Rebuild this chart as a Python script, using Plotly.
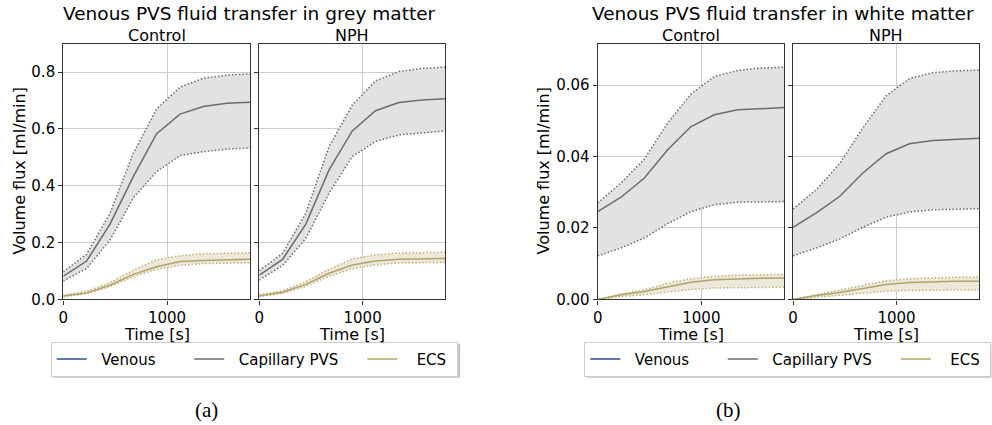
import plotly.graph_objects as go

# ---------------- data ----------------
time_s = [0, 225, 450, 675, 900, 1125, 1350, 1575, 1800]

# Grey matter, Control
gm_ctrl_cap_mean = [0.082, 0.135, 0.265, 0.432, 0.583, 0.652, 0.679, 0.690, 0.694]
gm_ctrl_cap_hi = [0.097, 0.159, 0.303, 0.515, 0.670, 0.747, 0.778, 0.789, 0.794]
gm_ctrl_cap_lo = [0.065, 0.109, 0.209, 0.357, 0.450, 0.506, 0.520, 0.529, 0.533]
gm_ctrl_ecs_mean = [0.012, 0.023, 0.050, 0.088, 0.115, 0.133, 0.137, 0.140, 0.141]
gm_ctrl_ecs_hi = [0.015, 0.029, 0.059, 0.103, 0.139, 0.154, 0.161, 0.163, 0.164]
gm_ctrl_ecs_lo = [0.009, 0.020, 0.045, 0.080, 0.106, 0.120, 0.126, 0.128, 0.129]

# Grey matter, NPH
gm_nph_cap_mean = [0.085, 0.141, 0.265, 0.456, 0.593, 0.664, 0.693, 0.702, 0.706]
gm_nph_cap_hi = [0.101, 0.162, 0.303, 0.538, 0.684, 0.769, 0.802, 0.813, 0.818]
gm_nph_cap_lo = [0.068, 0.119, 0.215, 0.374, 0.503, 0.556, 0.579, 0.587, 0.593]
gm_nph_ecs_mean = [0.013, 0.025, 0.053, 0.092, 0.121, 0.135, 0.141, 0.143, 0.144]
gm_nph_ecs_hi = [0.016, 0.030, 0.062, 0.106, 0.142, 0.157, 0.163, 0.165, 0.166]
gm_nph_ecs_lo = [0.010, 0.021, 0.046, 0.082, 0.108, 0.122, 0.128, 0.130, 0.131]

# White matter, Control
wm_ctrl_cap_mean = [0.0246, 0.0286, 0.0340, 0.0419, 0.0484, 0.0517, 0.0531, 0.0535, 0.0537]
wm_ctrl_cap_hi = [0.0270, 0.0326, 0.0393, 0.0494, 0.0575, 0.0624, 0.0641, 0.0648, 0.0650]
wm_ctrl_cap_lo = [0.0122, 0.0144, 0.0172, 0.0212, 0.0246, 0.0265, 0.0272, 0.0273, 0.0274]
wm_ctrl_ecs_mean = [0.0000, 0.0013, 0.0022, 0.0036, 0.0048, 0.0055, 0.0058, 0.0059, 0.0060]
wm_ctrl_ecs_hi = [0.0000, 0.0015, 0.0027, 0.0045, 0.0058, 0.0065, 0.0068, 0.0069, 0.0070]
wm_ctrl_ecs_lo = [0.0000, 0.0008, 0.0013, 0.0021, 0.0028, 0.0032, 0.0033, 0.0034, 0.0034]

# White matter, NPH
wm_nph_cap_mean = [0.0202, 0.0242, 0.0288, 0.0354, 0.0408, 0.0436, 0.0445, 0.0449, 0.0451]
wm_nph_cap_hi = [0.0253, 0.0307, 0.0380, 0.0480, 0.0570, 0.0618, 0.0635, 0.0640, 0.0642]
wm_nph_cap_lo = [0.0122, 0.0144, 0.0169, 0.0202, 0.0230, 0.0245, 0.0251, 0.0253, 0.0254]
wm_nph_ecs_mean = [0.0000, 0.0011, 0.0019, 0.0031, 0.0042, 0.0047, 0.0050, 0.0051, 0.0051]
wm_nph_ecs_hi = [0.0000, 0.0013, 0.0024, 0.0039, 0.0052, 0.0058, 0.0061, 0.0062, 0.0063]
wm_nph_ecs_lo = [0.0000, 0.0006, 0.0011, 0.0017, 0.0023, 0.0025, 0.0026, 0.0027, 0.0027]

# Venous series (not visible in the panels)
venous_time = [None]
venous_flux = [None]

series_names = ["Venous", "Capillary PVS", "ECS"]
x_ticks = [0, 1000]

# ---------------- styling ----------------
W, H = 992, 425
FONT = "DejaVu Sans"
C_VEN = "#2a4b8d"
C_CAP = "#6b6b6b"
C_CAP_FILL = "#e1e3e2"
C_ECS = "#b3a266"
C_ECS_DOT = "#c2b07a"
C_ECS_FILL = "#ece8da"
GRID = "#cbcbcb"
FRAME = "#333333"
NB = "\u00a0"
LEAD = [2, 2, 3]
TRAIL = [6, 4, 1]
LEG_TOP = 341.8
LEG_H = 34.0
LEG_W = 407.5


def px_x(p):
    return p / W


def px_y(p):
    return 1 - p / H


def legend_label(i):
    return NB * LEAD[i] + series_names[i] + NB * TRAIL[i]


fig = go.Figure()

panels = [
    dict(ax="", x0=63.3, x1=250.0, legend="legend", lab=True, ymax=0.9, fmt=".1f", dt=0.2,
         cap=(gm_ctrl_cap_lo, gm_ctrl_cap_hi, gm_ctrl_cap_mean),
         ecs=(gm_ctrl_ecs_lo, gm_ctrl_ecs_hi, gm_ctrl_ecs_mean), first=True),
    dict(ax="2", x0=259.3, x1=445.3, legend="legend", lab=False, ymax=0.9, fmt=".1f", dt=0.2,
         cap=(gm_nph_cap_lo, gm_nph_cap_hi, gm_nph_cap_mean),
         ecs=(gm_nph_ecs_lo, gm_nph_ecs_hi, gm_nph_ecs_mean), first=False),
    dict(ax="3", x0=597.7, x1=784.3, legend="legend2", lab=True, ymax=0.0716, fmt=".2f", dt=0.02,
         cap=(wm_ctrl_cap_lo, wm_ctrl_cap_hi, wm_ctrl_cap_mean),
         ecs=(wm_ctrl_ecs_lo, wm_ctrl_ecs_hi, wm_ctrl_ecs_mean), first=True),
    dict(ax="4", x0=793.0, x1=979.3, legend="legend2", lab=False, ymax=0.0716, fmt=".2f", dt=0.02,
         cap=(wm_nph_cap_lo, wm_nph_cap_hi, wm_nph_cap_mean),
         ecs=(wm_nph_ecs_lo, wm_nph_ecs_hi, wm_nph_ecs_mean), first=False),
]

Y_TOP, Y_BOT = 43.7, 299.4
DOT = "1.5px,2px"

for p in panels:
    xa, ya = "x" + p["ax"], "y" + p["ax"]
    lg = p["legend"]
    for (lo, hi, mean), lc, dc, fc in [
        (p["cap"], C_CAP, C_CAP, C_CAP_FILL),
        (p["ecs"], C_ECS, C_ECS_DOT, C_ECS_FILL),
    ]:
        fig.add_trace(go.Scatter(x=time_s, y=lo, mode="lines", xaxis=xa, yaxis=ya,
                                 line=dict(color=dc, width=1.5, dash=DOT),
                                 showlegend=False, hoverinfo="skip"))
        fig.add_trace(go.Scatter(x=time_s, y=hi, mode="lines", xaxis=xa, yaxis=ya,
                                 line=dict(color=dc, width=1.5, dash=DOT),
                                 fill="tonexty", fillcolor=fc,
                                 showlegend=False, hoverinfo="skip"))
    fig.add_trace(go.Scatter(x=venous_time, y=venous_flux, mode="lines", xaxis=xa, yaxis=ya,
                             name=legend_label(0), legend=lg, showlegend=p["first"],
                             legendrank=1, line=dict(color=C_VEN, width=1.5)))
    fig.add_trace(go.Scatter(x=time_s, y=p["cap"][2], mode="lines", xaxis=xa, yaxis=ya,
                             name=legend_label(1), legend=lg, showlegend=p["first"],
                             legendrank=2, line=dict(color=C_CAP, width=1.5)))
    fig.add_trace(go.Scatter(x=time_s, y=p["ecs"][2], mode="lines", xaxis=xa, yaxis=ya,
                             name=legend_label(2), legend=lg, showlegend=p["first"],
                             legendrank=3, line=dict(color=C_ECS, width=1.5)))

    axis_common = dict(showline=True, linecolor=FRAME, linewidth=1.2, mirror=True,
                       ticks="outside", ticklen=4, tickwidth=1, tickcolor=FRAME,
                       showgrid=True, gridcolor=GRID, gridwidth=1, zeroline=False,
                       automargin=False,
                       tickfont=dict(family=FONT, size=15, color="black"))
    fig.update_layout(**{
        "xaxis" + p["ax"]: dict(domain=[px_x(p["x0"]), px_x(p["x1"])], range=[0, 1800],
                                tickvals=x_ticks, anchor=ya, **axis_common),
        "yaxis" + p["ax"]: dict(domain=[px_y(Y_BOT), px_y(Y_TOP)], range=[0, p["ymax"]],
                                dtick=p["dt"], tick0=0, tickformat=p["fmt"],
                                showticklabels=p["lab"], anchor=xa, **axis_common),
    })

annotations = []
for txt, cx in [("Venous PVS fluid transfer in grey matter", 249.0),
                ("Venous PVS fluid transfer in white matter", 783.3)]:
    annotations.append(dict(text=txt, x=px_x(cx), y=px_y(13.2), xref="paper", yref="paper",
                            xanchor="center", yanchor="middle", showarrow=False,
                            font=dict(family=FONT, size=18.5, color="black")))
for p, sub in zip(panels, ["Control", "NPH", "Control", "NPH"]):
    cx = (p["x0"] + p["x1"]) / 2
    annotations.append(dict(text=sub, x=px_x(cx), y=px_y(35.0), xref="paper", yref="paper",
                            xanchor="center", yanchor="middle", showarrow=False,
                            font=dict(family=FONT, size=16, color="black")))
    annotations.append(dict(text="Time [s]", x=px_x(cx), y=px_y(334), xref="paper", yref="paper",
                            xanchor="center", yanchor="middle", showarrow=False,
                            font=dict(family=FONT, size=16, color="black")))
for cx in [19.0, 543.0]:
    annotations.append(dict(text="Volume flux [ml/min]", x=px_x(cx), y=px_y(171.5),
                            xref="paper", yref="paper", xanchor="center", yanchor="middle",
                            textangle=-90, showarrow=False,
                            font=dict(family=FONT, size=16, color="black")))
for txt, cx in [("(a)", 206.7), ("(b)", 728.3)]:
    annotations.append(dict(text=txt, x=px_x(cx), y=px_y(410), xref="paper", yref="paper",
                            xanchor="center", yanchor="middle", showarrow=False,
                            font=dict(family="Liberation Serif", size=21, color="black")))

# subtle legend shadows (drawn beneath the legend boxes)
shapes = []
for lx0 in [50.7, 584.3]:
    shapes.append(dict(type="rect", xref="paper", yref="paper", layer="below",
                       x0=px_x(lx0 + 2.5), x1=px_x(min(lx0 + LEG_W + 2.0, 991.5)),
                       y0=px_y(LEG_TOP + LEG_H + 2.0), y1=px_y(LEG_TOP + 2.5),
                       fillcolor="#c4c4c4", line=dict(width=0)))

legend_common = dict(orientation="h", xanchor="left", yanchor="top",
                     bgcolor="white", bordercolor="#cccccc", borderwidth=1,
                     font=dict(family=FONT, size=15, color="black"),
                     traceorder="normal", itemclick=False, itemdoubleclick=False)

fig.update_layout(
    width=W, height=H,
    margin=dict(l=0, r=0, t=0, b=0, pad=0, autoexpand=False),
    paper_bgcolor="white", plot_bgcolor="white",
    showlegend=True,
    legend=dict(x=px_x(50.7), y=px_y(LEG_TOP), **legend_common),
    legend2=dict(x=px_x(584.3), y=px_y(LEG_TOP), **legend_common),
    annotations=annotations,
    shapes=shapes,
)

fig.write_html("out.html")
